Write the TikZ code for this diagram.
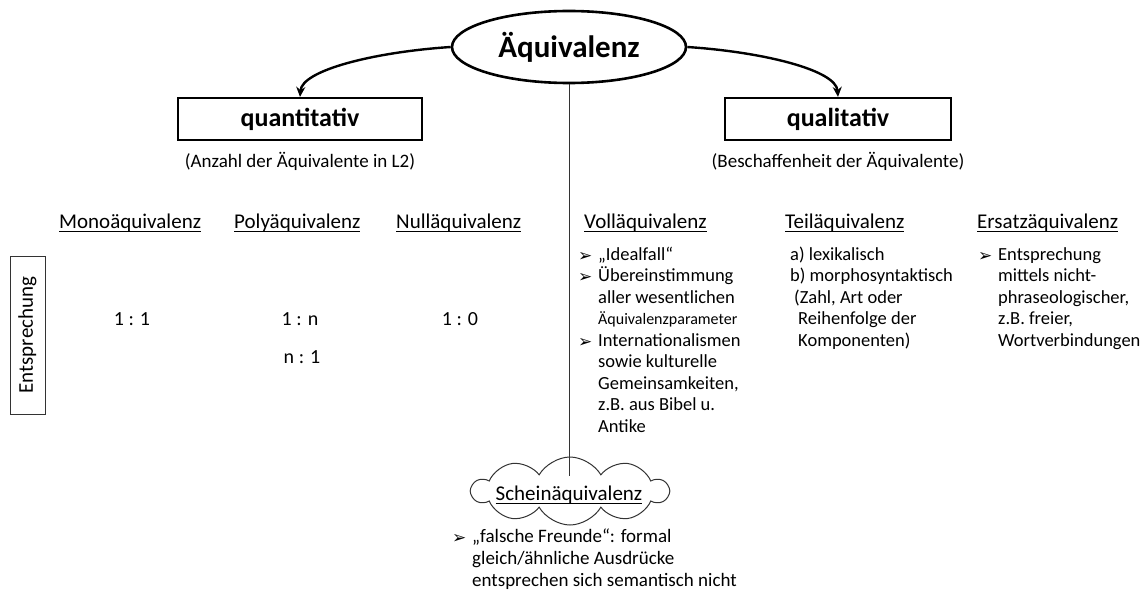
\documentclass[tikz,border=0pt]{standalone}
\usepackage{fontspec}
\setmainfont{Carlito}
\newfontfamily\bulfont{DejaVu Sans}
\usetikzlibrary{shapes.geometric,shapes.symbols,arrows.meta}
\newcommand\ulx[1]{\setbox0\hbox{#1}\rlap{\rule[-4pt]{\wd0}{1pt}}\box0}
\newcommand\bul{\makebox[20pt][l]{\raisebox{-1pt}{\bulfont\fontsize{17}{17}\selectfont ➢}}}
\newcommand\ind{\hspace*{20pt}}
\tikzset{
  ttl/.style={draw, line width=2.2pt, minimum height=42pt, inner sep=0,
    font=\fontsize{26}{30}\selectfont\bfseries},
  paren/.style={font=\fontsize{19}{22}\selectfont, inner sep=0, anchor=base},
  head/.style={font=\fontsize{21}{24}\selectfont, inner sep=0, anchor=base west},
  lst/.style={font=\fontsize{18.5}{21.5}\selectfont, inner sep=0, anchor=base west},
  ratio/.style={font=\fontsize{20}{24}\selectfont, inner sep=0, anchor=base},
  arr/.style={line width=2.4pt, -{Stealth[length=10pt,width=9pt]}},
  vline/.style={line width=1pt, black!80}
}
\begin{document}
\begin{tikzpicture}[x=1pt,y=-1pt]
\useasboundingbox (0,0) rectangle (1147,599);
% top
\node[ellipse, draw, line width=2.6pt, minimum width=234pt, minimum height=72pt, inner sep=0,
  font=\fontsize{31}{36}\selectfont\bfseries] (aeq) at (569,47) {Äquivalenz};
\node[ttl, minimum width=244pt] (quan) at (300,119) {quantitativ};
\node[ttl, minimum width=226pt] (qual) at (838,119) {qualitativ};
\draw[arr] (aeq.west) .. controls (375,52) and (302,70) .. (quan.north);
\draw[arr] (aeq.east) .. controls (763,52) and (836,70) .. (qual.north);
\node[paren] (anz) at (300,167) {(Anzahl der Äquivalente in L2)};
\node[paren] (besch) at (838,167) {(Beschaffenheit der Äquivalente)};
% headings
\node[head] (mono) at (59,228) {\ulx{Monoäquivalenz}};
\node[head] (poly) at (234,228) {\ulx{Polyäquivalenz}};
\node[head] (null) at (396,228) {\ulx{Nulläquivalenz}};
\node[head] (voll) at (584,228) {\ulx{Volläquivalenz}};
\node[head] (teil) at (785,228) {\ulx{Teiläquivalenz}};
\node[head] (ersatz) at (977,228) {\ulx{Ersatzäquivalenz}};
% Entsprechung
\node[draw, line width=1pt, black!80, text=black, rotate=90, minimum width=158pt, minimum height=35pt, inner sep=0,
  font=\fontsize{21}{24}\selectfont] (ent) at (27.5,335) {Entsprechung};
\node[ratio] (r11) at (132,325) {1 : 1};
\node[ratio] (r1n) at (300,325) {1 : n};
\node[ratio] (rn1) at (302,363) {n : 1};
\node[ratio] (r10) at (460,325) {1 : 0};
% lists
\node[lst] (vl) at (578,260) {\begin{tabular}[t]{@{}l@{}}\bul„Idealfall“\\ \bul Übereinstimmung\\ \ind aller wesentlichen\\ \ind{\fontsize{16}{21.5}\selectfont Äquivalenzparameter}\\ \bul Internationalismen\\ \ind sowie kulturelle\\ \ind Gemeinsamkeiten,\\ \ind z.B. aus Bibel u.\\ \ind Antike\end{tabular}};
\node[lst] (tl) at (790,260) {\begin{tabular}[t]{@{}l@{}}a) lexikalisch\\ b) morphosyntaktisch\\ \hspace*{4pt}(Zahl, Art oder\\ \hspace*{8pt}Reihenfolge der\\ \hspace*{8pt}Komponenten)\end{tabular}};
\node[lst] (el) at (978,260) {\begin{tabular}[t]{@{}l@{}}\bul Entsprechung\\ \ind mittels nicht-\\ \ind phraseologischer,\\ \ind z.B. freier,\\ \ind Wortverbindungen\end{tabular}};
% vertical line and cloud
\node[cloud, draw, line width=1pt, black!80, cloud puffs=10, cloud puff arc=120, aspect=2.9,
  minimum width=196pt, minimum height=68pt, inner sep=0] (schein) at (570,491) {};
\node[font=\fontsize{21}{24}\selectfont, inner sep=0, anchor=base] (scheint) at (569,500) {\ulx{Scheinäquivalenz}};
\coordinate (vend) at (569,476);
\draw[vline] (aeq.south) -- (vend);
\node[lst, font=\fontsize{19}{22}\selectfont] (bl) at (452,542) {\begin{tabular}[t]{@{}l@{}}\bul„falsche Freunde“: formal\\ \ind gleich/ähnliche Ausdrücke\\ \ind entsprechen sich semantisch nicht\end{tabular}};
\end{tikzpicture}
\end{document}
